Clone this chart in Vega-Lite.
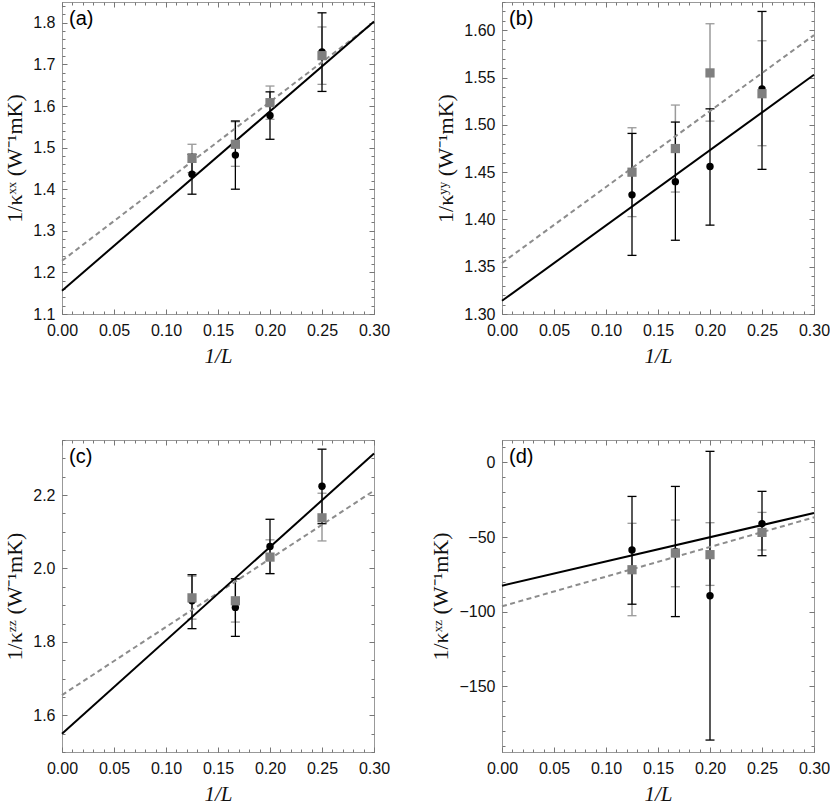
{
"$schema":"https://vega.github.io/schema/vega-lite/v6.json",
"padding":{"left":3,"top":1,"right":5,"bottom":5},
"autosize":{"type":"pad"},
"background":"white",
"datasets":{
"pts":[
{"p":"a","s":"k","x":0.125,"y":1.436,"lo":1.388,"hi":1.484},
{"p":"a","s":"k","x":0.1667,"y":1.482,"lo":1.400,"hi":1.564},
{"p":"a","s":"k","x":0.2,"y":1.577,"lo":1.520,"hi":1.634},
{"p":"a","s":"k","x":0.25,"y":1.730,"lo":1.635,"hi":1.824},
{"p":"a","s":"g","x":0.125,"y":1.474,"lo":1.440,"hi":1.508},
{"p":"a","s":"g","x":0.1667,"y":1.508,"lo":1.455,"hi":1.562},
{"p":"a","s":"g","x":0.2,"y":1.608,"lo":1.568,"hi":1.648},
{"p":"a","s":"g","x":0.25,"y":1.721,"lo":1.652,"hi":1.790},
{"p":"b","s":"k","x":0.125,"y":1.426,"lo":1.362,"hi":1.491},
{"p":"b","s":"k","x":0.1667,"y":1.440,"lo":1.378,"hi":1.503},
{"p":"b","s":"k","x":0.2,"y":1.456,"lo":1.394,"hi":1.517},
{"p":"b","s":"k","x":0.25,"y":1.538,"lo":1.453,"hi":1.620},
{"p":"b","s":"g","x":0.125,"y":1.450,"lo":1.403,"hi":1.497},
{"p":"b","s":"g","x":0.1667,"y":1.475,"lo":1.429,"hi":1.521},
{"p":"b","s":"g","x":0.2,"y":1.555,"lo":1.504,"hi":1.607},
{"p":"b","s":"g","x":0.25,"y":1.533,"lo":1.478,"hi":1.589},
{"p":"c","s":"k","x":0.125,"y":1.912,"lo":1.836,"hi":1.983},
{"p":"c","s":"k","x":0.1667,"y":1.894,"lo":1.815,"hi":1.972},
{"p":"c","s":"k","x":0.2,"y":2.060,"lo":1.986,"hi":2.134},
{"p":"c","s":"k","x":0.25,"y":2.224,"lo":2.122,"hi":2.325},
{"p":"c","s":"g","x":0.125,"y":1.920,"lo":1.862,"hi":1.979},
{"p":"c","s":"g","x":0.1667,"y":1.912,"lo":1.854,"hi":1.971},
{"p":"c","s":"g","x":0.2,"y":2.031,"lo":1.986,"hi":2.078},
{"p":"c","s":"g","x":0.25,"y":2.138,"lo":2.075,"hi":2.205},
{"p":"d","s":"k","x":0.125,"y":-58.7,"lo":-95.0,"hi":-22.8},
{"p":"d","s":"k","x":0.1667,"y":-59.7,"lo":-103.3,"hi":-16.1},
{"p":"d","s":"k","x":0.2,"y":-89.3,"lo":-186.0,"hi":7.4},
{"p":"d","s":"k","x":0.25,"y":-41.0,"lo":-62.5,"hi":-19.4},
{"p":"d","s":"g","x":0.125,"y":-71.9,"lo":-102.7,"hi":-40.8},
{"p":"d","s":"g","x":0.1667,"y":-60.7,"lo":-83.3,"hi":-38.6},
{"p":"d","s":"g","x":0.2,"y":-61.8,"lo":-82.4,"hi":-40.4},
{"p":"d","s":"g","x":0.25,"y":-46.9,"lo":-58.7,"hi":-33.5}
],
"fits":[
{"p":"a","s":"k","x":0,"y":1.156},{"p":"a","s":"k","x":0.3,"y":1.803},
{"p":"a","s":"g","x":0,"y":1.228},{"p":"a","s":"g","x":0.3,"y":1.801},
{"p":"b","s":"k","x":0,"y":1.314},{"p":"b","s":"k","x":0.3,"y":1.553},
{"p":"b","s":"g","x":0,"y":1.354},{"p":"b","s":"g","x":0.3,"y":1.595},
{"p":"c","s":"k","x":0,"y":1.550},{"p":"c","s":"k","x":0.3,"y":2.313},
{"p":"c","s":"g","x":0,"y":1.655},{"p":"c","s":"g","x":0.3,"y":2.212},
{"p":"d","s":"k","x":0,"y":-82.6},{"p":"d","s":"k","x":0.3,"y":-33.9},
{"p":"d","s":"g","x":0,"y":-96.4},{"p":"d","s":"g","x":0.3,"y":-36.8}
]
},
"bounds":"flush",
"columns":2,
"spacing":{"row":126,"column":128},
"concat":[
{"width":312,"height":312,"resolve":{"axis":{"x":"independent","y":"independent"}},"layer":[
{"data":{"name":"pts"},"transform":[{"filter":"datum.p==='a' && datum.s==='g'"}],"mark":{"type":"rule","color":"#9a9a9a","strokeWidth":1.5},
"encoding":{"x":{"field":"x","type":"quantitative","scale":{"domain":[0,0.3],"nice":false,"zero":false},"axis":{"orient":"bottom","values":[0,0.05,0.1,0.15,0.2,0.25,0.3],"format":".2f","ticks":false,"title":"1/L","titleFontStyle":"italic"}},
"y":{"field":"lo","type":"quantitative","scale":{"domain":[1.1,1.85],"nice":false,"zero":false},"axis":{"orient":"left","values":[1.1,1.2,1.3,1.4,1.5,1.6,1.7,1.8],"format":".1f","ticks":false,"title":"1/κˣˣ (W⁻¹mK)"}},"y2":{"field":"hi"}}},
{"data":{"name":"pts"},"transform":[{"filter":"datum.p==='a' && datum.s==='g'"}],"mark":{"type":"tick","orient":"horizontal","size":9,"thickness":1.3,"color":"#9a9a9a","opacity":1},
"encoding":{"x":{"field":"x","type":"quantitative","axis":{"orient":"bottom","values":[0,0.05,0.1,0.15,0.2,0.25,0.3],"labels":false,"tickSize":-5,"title":null}},
"y":{"field":"lo","type":"quantitative","axis":{"orient":"left","values":[1.1,1.2,1.3,1.4,1.5,1.6,1.7,1.8],"labels":false,"tickSize":-5,"title":null}}}},
{"data":{"name":"pts"},"transform":[{"filter":"datum.p==='a' && datum.s==='g'"}],"mark":{"type":"tick","orient":"horizontal","size":9,"thickness":1.3,"color":"#9a9a9a","opacity":1},
"encoding":{"x":{"field":"x","type":"quantitative","axis":{"orient":"bottom","values":[0,0.01,0.02,0.03,0.04,0.05,0.06,0.07,0.08,0.09,0.1,0.11,0.12,0.13,0.14,0.15,0.16,0.17,0.18,0.19,0.2,0.21,0.22,0.23,0.24,0.25,0.26,0.27,0.28,0.29,0.3],"labels":false,"tickSize":-3,"title":null}},
"y":{"field":"hi","type":"quantitative","axis":{"orient":"left","values":[1.1,1.12,1.14,1.16,1.18,1.2,1.22,1.24,1.26,1.28,1.3,1.32,1.34,1.36,1.38,1.4,1.42,1.44,1.46,1.48,1.5,1.52,1.54,1.56,1.58,1.6,1.62,1.64,1.66,1.68,1.7,1.72,1.74,1.76,1.78,1.8,1.82,1.84],"labels":false,"tickSize":-3,"title":null}}}},
{"data":{"name":"pts"},"transform":[{"filter":"datum.p==='a' && datum.s==='k'"}],"mark":{"type":"rule","color":"#000","strokeWidth":1.3},
"encoding":{"x":{"field":"x","type":"quantitative","axis":{"orient":"top","values":[0,0.05,0.1,0.15,0.2,0.25,0.3],"labels":false,"tickSize":-5,"title":null}},
"y":{"field":"lo","type":"quantitative","axis":{"orient":"right","values":[1.1,1.2,1.3,1.4,1.5,1.6,1.7,1.8],"labels":false,"tickSize":-5,"title":null}},"y2":{"field":"hi"}}},
{"data":{"name":"pts"},"transform":[{"filter":"datum.p==='a' && datum.s==='k'"}],"mark":{"type":"tick","orient":"horizontal","size":9,"thickness":1.3,"color":"#000","opacity":1},
"encoding":{"x":{"field":"x","type":"quantitative","axis":{"orient":"top","values":[0,0.01,0.02,0.03,0.04,0.05,0.06,0.07,0.08,0.09,0.1,0.11,0.12,0.13,0.14,0.15,0.16,0.17,0.18,0.19,0.2,0.21,0.22,0.23,0.24,0.25,0.26,0.27,0.28,0.29,0.3],"labels":false,"tickSize":-3,"title":null}},
"y":{"field":"lo","type":"quantitative","axis":{"orient":"right","values":[1.1,1.12,1.14,1.16,1.18,1.2,1.22,1.24,1.26,1.28,1.3,1.32,1.34,1.36,1.38,1.4,1.42,1.44,1.46,1.48,1.5,1.52,1.54,1.56,1.58,1.6,1.62,1.64,1.66,1.68,1.7,1.72,1.74,1.76,1.78,1.8,1.82,1.84],"labels":false,"tickSize":-3,"title":null}}}},
{"data":{"name":"pts"},"transform":[{"filter":"datum.p==='a' && datum.s==='k'"}],"mark":{"type":"tick","orient":"horizontal","size":9,"thickness":1.3,"color":"#000","opacity":1},
"encoding":{"x":{"field":"x","type":"quantitative","axis":null},"y":{"field":"hi","type":"quantitative","axis":null}}},
{"data":{"name":"fits"},"transform":[{"filter":"datum.p==='a' && datum.s==='g'"}],"mark":{"type":"line","color":"#8c8c8c","strokeWidth":2,"strokeDash":[5,3.5]},
"encoding":{"x":{"field":"x","type":"quantitative","axis":null},"y":{"field":"y","type":"quantitative","axis":null}}},
{"data":{"name":"fits"},"transform":[{"filter":"datum.p==='a' && datum.s==='k'"}],"mark":{"type":"line","color":"#000","strokeWidth":2},
"encoding":{"x":{"field":"x","type":"quantitative","axis":null},"y":{"field":"y","type":"quantitative","axis":null}}},
{"data":{"name":"pts"},"transform":[{"filter":"datum.p==='a' && datum.s==='k'"}],"mark":{"type":"point","shape":"circle","filled":true,"color":"#000","size":55,"opacity":1},
"encoding":{"x":{"field":"x","type":"quantitative","axis":null},"y":{"field":"y","type":"quantitative","axis":null}}},
{"data":{"name":"pts"},"transform":[{"filter":"datum.p==='a' && datum.s==='g'"}],"mark":{"type":"point","shape":"square","filled":true,"color":"#7f7f7f","size":85,"opacity":1},
"encoding":{"x":{"field":"x","type":"quantitative","axis":null},"y":{"field":"y","type":"quantitative","axis":null}}},
{"data":{"values":[{}]},"mark":{"type":"text","text":"(a)","align":"left","baseline":"top","dx":7,"dy":7,"font":"Liberation Sans","fontSize":20,"color":"#000"},
"encoding":{"x":{"datum":0,"type":"quantitative","axis":null},"y":{"datum":1.85,"type":"quantitative","axis":null}}}
]},
{"width":312,"height":312,"resolve":{"axis":{"x":"independent","y":"independent"}},"layer":[
{"data":{"name":"pts"},"transform":[{"filter":"datum.p==='b' && datum.s==='g'"}],"mark":{"type":"rule","color":"#9a9a9a","strokeWidth":1.5},
"encoding":{"x":{"field":"x","type":"quantitative","scale":{"domain":[0,0.3],"nice":false,"zero":false},"axis":{"orient":"bottom","values":[0,0.05,0.1,0.15,0.2,0.25,0.3],"format":".2f","ticks":false,"title":"1/L","titleFontStyle":"italic"}},
"y":{"field":"lo","type":"quantitative","scale":{"domain":[1.3,1.63],"nice":false,"zero":false},"axis":{"orient":"left","values":[1.3,1.35,1.4,1.45,1.5,1.55,1.6],"format":".2f","ticks":false,"title":"1/κʸʸ (W⁻¹mK)"}},"y2":{"field":"hi"}}},
{"data":{"name":"pts"},"transform":[{"filter":"datum.p==='b' && datum.s==='g'"}],"mark":{"type":"tick","orient":"horizontal","size":9,"thickness":1.3,"color":"#9a9a9a","opacity":1},
"encoding":{"x":{"field":"x","type":"quantitative","axis":{"orient":"bottom","values":[0,0.05,0.1,0.15,0.2,0.25,0.3],"labels":false,"tickSize":-5,"title":null}},
"y":{"field":"lo","type":"quantitative","axis":{"orient":"left","values":[1.3,1.35,1.4,1.45,1.5,1.55,1.6],"labels":false,"tickSize":-5,"title":null}}}},
{"data":{"name":"pts"},"transform":[{"filter":"datum.p==='b' && datum.s==='g'"}],"mark":{"type":"tick","orient":"horizontal","size":9,"thickness":1.3,"color":"#9a9a9a","opacity":1},
"encoding":{"x":{"field":"x","type":"quantitative","axis":{"orient":"bottom","values":[0,0.01,0.02,0.03,0.04,0.05,0.06,0.07,0.08,0.09,0.1,0.11,0.12,0.13,0.14,0.15,0.16,0.17,0.18,0.19,0.2,0.21,0.22,0.23,0.24,0.25,0.26,0.27,0.28,0.29,0.3],"labels":false,"tickSize":-3,"title":null}},
"y":{"field":"hi","type":"quantitative","axis":{"orient":"left","values":[1.3,1.31,1.32,1.33,1.34,1.35,1.36,1.37,1.38,1.39,1.4,1.41,1.42,1.43,1.44,1.45,1.46,1.47,1.48,1.49,1.5,1.51,1.52,1.53,1.54,1.55,1.56,1.57,1.58,1.59,1.6,1.61,1.62,1.63],"labels":false,"tickSize":-3,"title":null}}}},
{"data":{"name":"pts"},"transform":[{"filter":"datum.p==='b' && datum.s==='k'"}],"mark":{"type":"rule","color":"#000","strokeWidth":1.3},
"encoding":{"x":{"field":"x","type":"quantitative","axis":{"orient":"top","values":[0,0.05,0.1,0.15,0.2,0.25,0.3],"labels":false,"tickSize":-5,"title":null}},
"y":{"field":"lo","type":"quantitative","axis":{"orient":"right","values":[1.3,1.35,1.4,1.45,1.5,1.55,1.6],"labels":false,"tickSize":-5,"title":null}},"y2":{"field":"hi"}}},
{"data":{"name":"pts"},"transform":[{"filter":"datum.p==='b' && datum.s==='k'"}],"mark":{"type":"tick","orient":"horizontal","size":9,"thickness":1.3,"color":"#000","opacity":1},
"encoding":{"x":{"field":"x","type":"quantitative","axis":{"orient":"top","values":[0,0.01,0.02,0.03,0.04,0.05,0.06,0.07,0.08,0.09,0.1,0.11,0.12,0.13,0.14,0.15,0.16,0.17,0.18,0.19,0.2,0.21,0.22,0.23,0.24,0.25,0.26,0.27,0.28,0.29,0.3],"labels":false,"tickSize":-3,"title":null}},
"y":{"field":"lo","type":"quantitative","axis":{"orient":"right","values":[1.3,1.31,1.32,1.33,1.34,1.35,1.36,1.37,1.38,1.39,1.4,1.41,1.42,1.43,1.44,1.45,1.46,1.47,1.48,1.49,1.5,1.51,1.52,1.53,1.54,1.55,1.56,1.57,1.58,1.59,1.6,1.61,1.62,1.63],"labels":false,"tickSize":-3,"title":null}}}},
{"data":{"name":"pts"},"transform":[{"filter":"datum.p==='b' && datum.s==='k'"}],"mark":{"type":"tick","orient":"horizontal","size":9,"thickness":1.3,"color":"#000","opacity":1},
"encoding":{"x":{"field":"x","type":"quantitative","axis":null},"y":{"field":"hi","type":"quantitative","axis":null}}},
{"data":{"name":"fits"},"transform":[{"filter":"datum.p==='b' && datum.s==='g'"}],"mark":{"type":"line","color":"#8c8c8c","strokeWidth":2,"strokeDash":[5,3.5]},
"encoding":{"x":{"field":"x","type":"quantitative","axis":null},"y":{"field":"y","type":"quantitative","axis":null}}},
{"data":{"name":"fits"},"transform":[{"filter":"datum.p==='b' && datum.s==='k'"}],"mark":{"type":"line","color":"#000","strokeWidth":2},
"encoding":{"x":{"field":"x","type":"quantitative","axis":null},"y":{"field":"y","type":"quantitative","axis":null}}},
{"data":{"name":"pts"},"transform":[{"filter":"datum.p==='b' && datum.s==='k'"}],"mark":{"type":"point","shape":"circle","filled":true,"color":"#000","size":55,"opacity":1},
"encoding":{"x":{"field":"x","type":"quantitative","axis":null},"y":{"field":"y","type":"quantitative","axis":null}}},
{"data":{"name":"pts"},"transform":[{"filter":"datum.p==='b' && datum.s==='g'"}],"mark":{"type":"point","shape":"square","filled":true,"color":"#7f7f7f","size":85,"opacity":1},
"encoding":{"x":{"field":"x","type":"quantitative","axis":null},"y":{"field":"y","type":"quantitative","axis":null}}},
{"data":{"values":[{}]},"mark":{"type":"text","text":"(b)","align":"left","baseline":"top","dx":7,"dy":7,"font":"Liberation Sans","fontSize":20,"color":"#000"},
"encoding":{"x":{"datum":0,"type":"quantitative","axis":null},"y":{"datum":1.63,"type":"quantitative","axis":null}}}
]},
{"width":312,"height":312,"resolve":{"axis":{"x":"independent","y":"independent"}},"layer":[
{"data":{"name":"pts"},"transform":[{"filter":"datum.p==='c' && datum.s==='g'"}],"mark":{"type":"rule","color":"#9a9a9a","strokeWidth":1.5},
"encoding":{"x":{"field":"x","type":"quantitative","scale":{"domain":[0,0.3],"nice":false,"zero":false},"axis":{"orient":"bottom","values":[0,0.05,0.1,0.15,0.2,0.25,0.3],"format":".2f","ticks":false,"title":"1/L","titleFontStyle":"italic"}},
"y":{"field":"lo","type":"quantitative","scale":{"domain":[1.5,2.35],"nice":false,"zero":false},"axis":{"orient":"left","values":[1.6,1.8,2.0,2.2],"format":".1f","ticks":false,"title":"1/κᶻᶻ (W⁻¹mK)"}},"y2":{"field":"hi"}}},
{"data":{"name":"pts"},"transform":[{"filter":"datum.p==='c' && datum.s==='g'"}],"mark":{"type":"tick","orient":"horizontal","size":9,"thickness":1.3,"color":"#9a9a9a","opacity":1},
"encoding":{"x":{"field":"x","type":"quantitative","axis":{"orient":"bottom","values":[0,0.05,0.1,0.15,0.2,0.25,0.3],"labels":false,"tickSize":-5,"title":null}},
"y":{"field":"lo","type":"quantitative","axis":{"orient":"left","values":[1.6,1.8,2.0,2.2],"labels":false,"tickSize":-5,"title":null}}}},
{"data":{"name":"pts"},"transform":[{"filter":"datum.p==='c' && datum.s==='g'"}],"mark":{"type":"tick","orient":"horizontal","size":9,"thickness":1.3,"color":"#9a9a9a","opacity":1},
"encoding":{"x":{"field":"x","type":"quantitative","axis":{"orient":"bottom","values":[0,0.01,0.02,0.03,0.04,0.05,0.06,0.07,0.08,0.09,0.1,0.11,0.12,0.13,0.14,0.15,0.16,0.17,0.18,0.19,0.2,0.21,0.22,0.23,0.24,0.25,0.26,0.27,0.28,0.29,0.3],"labels":false,"tickSize":-3,"title":null}},
"y":{"field":"hi","type":"quantitative","axis":{"orient":"left","values":[1.5,1.55,1.6,1.65,1.7,1.75,1.8,1.85,1.9,1.95,2.0,2.05,2.1,2.15,2.2,2.25,2.3,2.35],"labels":false,"tickSize":-3,"title":null}}}},
{"data":{"name":"pts"},"transform":[{"filter":"datum.p==='c' && datum.s==='k'"}],"mark":{"type":"rule","color":"#000","strokeWidth":1.3},
"encoding":{"x":{"field":"x","type":"quantitative","axis":{"orient":"top","values":[0,0.05,0.1,0.15,0.2,0.25,0.3],"labels":false,"tickSize":-5,"title":null}},
"y":{"field":"lo","type":"quantitative","axis":{"orient":"right","values":[1.6,1.8,2.0,2.2],"labels":false,"tickSize":-5,"title":null}},"y2":{"field":"hi"}}},
{"data":{"name":"pts"},"transform":[{"filter":"datum.p==='c' && datum.s==='k'"}],"mark":{"type":"tick","orient":"horizontal","size":9,"thickness":1.3,"color":"#000","opacity":1},
"encoding":{"x":{"field":"x","type":"quantitative","axis":{"orient":"top","values":[0,0.01,0.02,0.03,0.04,0.05,0.06,0.07,0.08,0.09,0.1,0.11,0.12,0.13,0.14,0.15,0.16,0.17,0.18,0.19,0.2,0.21,0.22,0.23,0.24,0.25,0.26,0.27,0.28,0.29,0.3],"labels":false,"tickSize":-3,"title":null}},
"y":{"field":"lo","type":"quantitative","axis":{"orient":"right","values":[1.5,1.55,1.6,1.65,1.7,1.75,1.8,1.85,1.9,1.95,2.0,2.05,2.1,2.15,2.2,2.25,2.3,2.35],"labels":false,"tickSize":-3,"title":null}}}},
{"data":{"name":"pts"},"transform":[{"filter":"datum.p==='c' && datum.s==='k'"}],"mark":{"type":"tick","orient":"horizontal","size":9,"thickness":1.3,"color":"#000","opacity":1},
"encoding":{"x":{"field":"x","type":"quantitative","axis":null},"y":{"field":"hi","type":"quantitative","axis":null}}},
{"data":{"name":"fits"},"transform":[{"filter":"datum.p==='c' && datum.s==='g'"}],"mark":{"type":"line","color":"#8c8c8c","strokeWidth":2,"strokeDash":[5,3.5]},
"encoding":{"x":{"field":"x","type":"quantitative","axis":null},"y":{"field":"y","type":"quantitative","axis":null}}},
{"data":{"name":"fits"},"transform":[{"filter":"datum.p==='c' && datum.s==='k'"}],"mark":{"type":"line","color":"#000","strokeWidth":2},
"encoding":{"x":{"field":"x","type":"quantitative","axis":null},"y":{"field":"y","type":"quantitative","axis":null}}},
{"data":{"name":"pts"},"transform":[{"filter":"datum.p==='c' && datum.s==='k'"}],"mark":{"type":"point","shape":"circle","filled":true,"color":"#000","size":55,"opacity":1},
"encoding":{"x":{"field":"x","type":"quantitative","axis":null},"y":{"field":"y","type":"quantitative","axis":null}}},
{"data":{"name":"pts"},"transform":[{"filter":"datum.p==='c' && datum.s==='g'"}],"mark":{"type":"point","shape":"square","filled":true,"color":"#7f7f7f","size":85,"opacity":1},
"encoding":{"x":{"field":"x","type":"quantitative","axis":null},"y":{"field":"y","type":"quantitative","axis":null}}},
{"data":{"values":[{}]},"mark":{"type":"text","text":"(c)","align":"left","baseline":"top","dx":7,"dy":7,"font":"Liberation Sans","fontSize":20,"color":"#000"},
"encoding":{"x":{"datum":0,"type":"quantitative","axis":null},"y":{"datum":2.35,"type":"quantitative","axis":null}}}
]},
{"width":312,"height":312,"resolve":{"axis":{"x":"independent","y":"independent"}},"layer":[
{"data":{"name":"pts"},"transform":[{"filter":"datum.p==='d' && datum.s==='g'"}],"mark":{"type":"rule","color":"#9a9a9a","strokeWidth":1.5},
"encoding":{"x":{"field":"x","type":"quantitative","scale":{"domain":[0,0.3],"nice":false,"zero":false},"axis":{"orient":"bottom","values":[0,0.05,0.1,0.15,0.2,0.25,0.3],"format":".2f","ticks":false,"title":"1/L","titleFontStyle":"italic"}},
"y":{"field":"lo","type":"quantitative","scale":{"domain":[-194,15],"nice":false,"zero":false},"axis":{"orient":"left","values":[-150,-100,-50,0],"format":"d","ticks":false,"title":"1/κˣᶻ (W⁻¹mK)"}},"y2":{"field":"hi"}}},
{"data":{"name":"pts"},"transform":[{"filter":"datum.p==='d' && datum.s==='g'"}],"mark":{"type":"tick","orient":"horizontal","size":9,"thickness":1.3,"color":"#9a9a9a","opacity":1},
"encoding":{"x":{"field":"x","type":"quantitative","axis":{"orient":"bottom","values":[0,0.05,0.1,0.15,0.2,0.25,0.3],"labels":false,"tickSize":-5,"title":null}},
"y":{"field":"lo","type":"quantitative","axis":{"orient":"left","values":[-150,-100,-50,0],"labels":false,"tickSize":-5,"title":null}}}},
{"data":{"name":"pts"},"transform":[{"filter":"datum.p==='d' && datum.s==='g'"}],"mark":{"type":"tick","orient":"horizontal","size":9,"thickness":1.3,"color":"#9a9a9a","opacity":1},
"encoding":{"x":{"field":"x","type":"quantitative","axis":{"orient":"bottom","values":[0,0.01,0.02,0.03,0.04,0.05,0.06,0.07,0.08,0.09,0.1,0.11,0.12,0.13,0.14,0.15,0.16,0.17,0.18,0.19,0.2,0.21,0.22,0.23,0.24,0.25,0.26,0.27,0.28,0.29,0.3],"labels":false,"tickSize":-3,"title":null}},
"y":{"field":"hi","type":"quantitative","axis":{"orient":"left","values":[-190,-180,-170,-160,-150,-140,-130,-120,-110,-100,-90,-80,-70,-60,-50,-40,-30,-20,-10,0,10],"labels":false,"tickSize":-3,"title":null}}}},
{"data":{"name":"pts"},"transform":[{"filter":"datum.p==='d' && datum.s==='k'"}],"mark":{"type":"rule","color":"#000","strokeWidth":1.3},
"encoding":{"x":{"field":"x","type":"quantitative","axis":{"orient":"top","values":[0,0.05,0.1,0.15,0.2,0.25,0.3],"labels":false,"tickSize":-5,"title":null}},
"y":{"field":"lo","type":"quantitative","axis":{"orient":"right","values":[-150,-100,-50,0],"labels":false,"tickSize":-5,"title":null}},"y2":{"field":"hi"}}},
{"data":{"name":"pts"},"transform":[{"filter":"datum.p==='d' && datum.s==='k'"}],"mark":{"type":"tick","orient":"horizontal","size":9,"thickness":1.3,"color":"#000","opacity":1},
"encoding":{"x":{"field":"x","type":"quantitative","axis":{"orient":"top","values":[0,0.01,0.02,0.03,0.04,0.05,0.06,0.07,0.08,0.09,0.1,0.11,0.12,0.13,0.14,0.15,0.16,0.17,0.18,0.19,0.2,0.21,0.22,0.23,0.24,0.25,0.26,0.27,0.28,0.29,0.3],"labels":false,"tickSize":-3,"title":null}},
"y":{"field":"lo","type":"quantitative","axis":{"orient":"right","values":[-190,-180,-170,-160,-150,-140,-130,-120,-110,-100,-90,-80,-70,-60,-50,-40,-30,-20,-10,0,10],"labels":false,"tickSize":-3,"title":null}}}},
{"data":{"name":"pts"},"transform":[{"filter":"datum.p==='d' && datum.s==='k'"}],"mark":{"type":"tick","orient":"horizontal","size":9,"thickness":1.3,"color":"#000","opacity":1},
"encoding":{"x":{"field":"x","type":"quantitative","axis":null},"y":{"field":"hi","type":"quantitative","axis":null}}},
{"data":{"name":"fits"},"transform":[{"filter":"datum.p==='d' && datum.s==='g'"}],"mark":{"type":"line","color":"#8c8c8c","strokeWidth":2,"strokeDash":[5,3.5]},
"encoding":{"x":{"field":"x","type":"quantitative","axis":null},"y":{"field":"y","type":"quantitative","axis":null}}},
{"data":{"name":"fits"},"transform":[{"filter":"datum.p==='d' && datum.s==='k'"}],"mark":{"type":"line","color":"#000","strokeWidth":2},
"encoding":{"x":{"field":"x","type":"quantitative","axis":null},"y":{"field":"y","type":"quantitative","axis":null}}},
{"data":{"name":"pts"},"transform":[{"filter":"datum.p==='d' && datum.s==='k'"}],"mark":{"type":"point","shape":"circle","filled":true,"color":"#000","size":55,"opacity":1},
"encoding":{"x":{"field":"x","type":"quantitative","axis":null},"y":{"field":"y","type":"quantitative","axis":null}}},
{"data":{"name":"pts"},"transform":[{"filter":"datum.p==='d' && datum.s==='g'"}],"mark":{"type":"point","shape":"square","filled":true,"color":"#7f7f7f","size":85,"opacity":1},
"encoding":{"x":{"field":"x","type":"quantitative","axis":null},"y":{"field":"y","type":"quantitative","axis":null}}},
{"data":{"values":[{}]},"mark":{"type":"text","text":"(d)","align":"left","baseline":"top","dx":7,"dy":7,"font":"Liberation Sans","fontSize":20,"color":"#000"},
"encoding":{"x":{"datum":0,"type":"quantitative","axis":null},"y":{"datum":15,"type":"quantitative","axis":null}}}
]}
],
"config":{
"view":{"stroke":"#999","strokeWidth":1},
"axis":{"grid":false,"domain":false,"labelFont":"Liberation Sans","labelFontSize":16,"labelColor":"#111","titleFont":"Liberation Serif","titleFontSize":22,"titleFontWeight":"normal","titleColor":"#111","tickColor":"#777","tickWidth":1,"labelFlush":false,"labelOverlap":false,"labelPadding":7,"titlePadding":6},
"axisX":{"labelPadding":8,"titleFontSize":21,"titlePadding":7}
}
}
